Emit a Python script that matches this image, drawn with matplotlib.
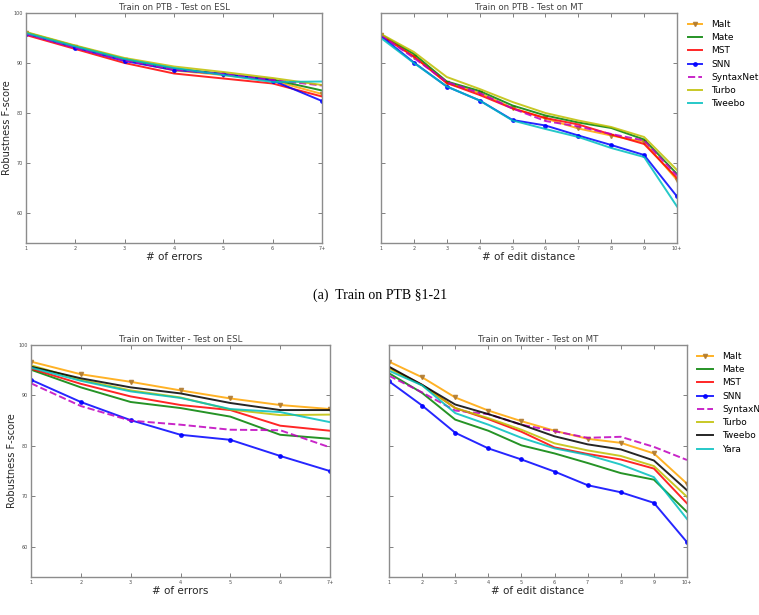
import matplotlib
matplotlib.use('Agg')
import matplotlib.pyplot as plt

# x tick labels
esl_ticks = ['1', '2', '3', '4', '5', '6', '7+']
mt_ticks = ['1', '2', '3', '4', '5', '6', '7', '8', '9', '10+']

# Train on PTB - Test on ESL
ptb_esl_malt = [96.0, 93.2, 90.6, 88.5, 87.6, 86.5, 83.8]
ptb_esl_mate = [96.1, 93.4, 90.8, 88.9, 87.8, 86.7, 84.5]
ptb_esl_mst = [95.6, 92.8, 90.0, 87.9, 86.9, 85.9, 83.3]
ptb_esl_snn = [95.9, 93.1, 90.4, 88.6, 87.8, 86.5, 82.4]
ptb_esl_syntaxnet = [95.8, 93.0, 90.5, 88.7, 87.8, 86.6, 85.5]
ptb_esl_turbo = [96.2, 93.5, 91.0, 89.3, 88.2, 87.0, 85.6]
ptb_esl_tweebo = [96.0, 93.3, 90.8, 89.0, 87.6, 86.2, 86.3]

# Train on PTB - Test on MT
ptb_mt_malt = [95.6, 91.3, 86.0, 84.0, 81.0, 78.9, 76.9, 75.5, 74.2, 66.6]
ptb_mt_mate = [95.7, 91.8, 86.3, 84.4, 81.5, 79.5, 78.1, 77.0, 74.7, 67.8]
ptb_mt_mst = [95.5, 91.3, 86.0, 83.6, 80.9, 79.0, 77.7, 75.7, 73.8, 67.0]
ptb_mt_snn = [95.4, 90.1, 85.3, 82.5, 78.6, 77.5, 75.5, 73.6, 71.6, 63.3]
ptb_mt_syntaxnet = [95.6, 91.0, 86.2, 84.0, 80.9, 78.4, 77.3, 75.8, 74.5, 67.5]
ptb_mt_turbo = [95.8, 92.2, 87.2, 84.8, 82.2, 80.0, 78.5, 77.2, 75.2, 68.6]
ptb_mt_tweebo = [95.0, 90.0, 85.3, 82.5, 78.5, 76.8, 75.2, 73.0, 71.2, 61.3]

# Train on Twitter - Test on ESL
tw_esl_malt = [96.7, 94.2, 92.7, 91.0, 89.4, 88.1, 87.3]
tw_esl_mate = [95.1, 91.6, 88.7, 87.5, 85.8, 82.2, 81.4]
tw_esl_mst = [95.3, 92.3, 89.8, 88.1, 87.1, 84.0, 83.0]
tw_esl_snn = [93.1, 88.7, 85.1, 82.2, 81.2, 78.0, 75.0]
tw_esl_syntaxnet = [92.4, 87.9, 85.0, 84.2, 83.2, 83.1, 79.7]
tw_esl_turbo = [96.0, 93.1, 91.0, 89.6, 87.2, 86.1, 86.2]
tw_esl_tweebo = [95.7, 93.4, 91.6, 90.4, 88.5, 87.1, 87.1]
tw_esl_yara = [95.5, 92.9, 90.8, 89.5, 87.3, 86.7, 84.7]

# Train on Twitter - Test on MT
tw_mt_malt = [96.7, 93.6, 89.6, 87.0, 84.9, 83.0, 81.4, 80.6, 78.5, 72.5]
tw_mt_mate = [94.4, 90.5, 85.2, 83.0, 80.1, 78.5, 76.6, 74.6, 73.3, 66.9]
tw_mt_mst = [95.5, 92.1, 87.5, 85.3, 82.8, 79.7, 78.4, 77.3, 75.5, 68.6]
tw_mt_snn = [92.8, 88.0, 82.6, 79.5, 77.3, 74.9, 72.2, 70.8, 68.7, 60.9]
tw_mt_syntaxnet = [93.9, 90.6, 87.0, 86.3, 84.2, 82.9, 81.6, 81.8, 79.8, 77.2]
tw_mt_turbo = [95.4, 92.0, 87.5, 85.5, 83.2, 80.5, 79.1, 78.0, 76.0, 69.9]
tw_mt_tweebo = [95.7, 92.1, 88.2, 86.3, 84.2, 81.9, 80.3, 79.3, 77.1, 71.2]
tw_mt_yara = [94.9, 92.0, 86.5, 84.2, 81.6, 79.5, 78.2, 76.3, 73.8, 65.5]

lw = 1.4
al = 0.85


def draw(ax, ticks, series, title, xlabel, ylabel=True):
    x = list(range(1, len(ticks) + 1))
    for name, vals, fmt in series:
        kw = dict(lw=lw, alpha=al, label=name)
        if name == 'Malt':
            ax.plot(x, vals, '-', color='orange', marker='v', ms=3,
                    mfc='#b07a30', mec='#b07a30', **kw)
        elif name == 'SNN':
            ax.plot(x, vals, '-', color='b', marker='o', ms=2.5, **kw)
        else:
            ax.plot(x, vals, fmt, **kw)
    ax.set_xlim(1, len(ticks))
    ax.set_ylim(54, 100)
    ax.set_xticks(x)
    ax.set_xticklabels(ticks)
    ax.set_yticks([60, 70, 80, 90, 100])
    ax.tick_params(direction='in', top=True, right=True, length=3,
                   width=0.5, labelsize=3.5, pad=2, colors='0.3')
    if not ylabel:
        ax.set_yticklabels([])
    else:
        ax.set_ylabel('Robustness F-score', fontsize=7, color='0.15', labelpad=1)
    for s in ax.spines.values():
        s.set_color('0.55')
        s.set_linewidth(1.0)
    ax.set_title(title, fontsize=6.2, color='0.25', pad=2)
    ax.set_xlabel(xlabel, fontsize=7.5, color='0.15', labelpad=1)


fig = plt.figure(figsize=(7.59, 6.15), dpi=100)
ax1 = fig.add_axes([26 / 759, 1 - 243 / 615, 296 / 759, 230 / 615])
ax2 = fig.add_axes([381 / 759, 1 - 243 / 615, 296 / 759, 230 / 615])
ax3 = fig.add_axes([31 / 759, 1 - 577 / 615, 299 / 759, 232 / 615])
ax4 = fig.add_axes([389 / 759, 1 - 577 / 615, 298 / 759, 232 / 615])

draw(ax1, esl_ticks, [
    ('Malt', ptb_esl_malt, ''),
    ('Mate', ptb_esl_mate, 'g-'),
    ('MST', ptb_esl_mst, 'r-'),
    ('SNN', ptb_esl_snn, ''),
    ('SyntaxNet', ptb_esl_syntaxnet, 'm--'),
    ('Turbo', ptb_esl_turbo, 'y-'),
    ('Tweebo', ptb_esl_tweebo, 'c-'),
], 'Train on PTB - Test on ESL', '# of errors')

draw(ax2, mt_ticks, [
    ('Malt', ptb_mt_malt, ''),
    ('Mate', ptb_mt_mate, 'g-'),
    ('MST', ptb_mt_mst, 'r-'),
    ('SNN', ptb_mt_snn, ''),
    ('SyntaxNet', ptb_mt_syntaxnet, 'm--'),
    ('Turbo', ptb_mt_turbo, 'y-'),
    ('Tweebo', ptb_mt_tweebo, 'c-'),
], 'Train on PTB - Test on MT', '# of edit distance', ylabel=False)

draw(ax3, esl_ticks, [
    ('Malt', tw_esl_malt, ''),
    ('Mate', tw_esl_mate, 'g-'),
    ('MST', tw_esl_mst, 'r-'),
    ('SNN', tw_esl_snn, ''),
    ('SyntaxNet', tw_esl_syntaxnet, 'm--'),
    ('Turbo', tw_esl_turbo, 'y-'),
    ('Tweebo', tw_esl_tweebo, 'k-'),
    ('Yara', tw_esl_yara, 'c-'),
], 'Train on Twitter - Test on ESL', '# of errors')

draw(ax4, mt_ticks, [
    ('Malt', tw_mt_malt, ''),
    ('Mate', tw_mt_mate, 'g-'),
    ('MST', tw_mt_mst, 'r-'),
    ('SNN', tw_mt_snn, ''),
    ('SyntaxNet', tw_mt_syntaxnet, 'm--'),
    ('Turbo', tw_mt_turbo, 'y-'),
    ('Tweebo', tw_mt_tweebo, 'k-'),
    ('Yara', tw_mt_yara, 'c-'),
], 'Train on Twitter - Test on MT', '# of edit distance', ylabel=False)

ax2.legend(loc='upper left', bbox_to_anchor=(688 / 759, 1 - 20 / 615),
           bbox_transform=fig.transFigure, frameon=False, fontsize=6.5,
           handlelength=1.6, handletextpad=1.0, labelspacing=0.47,
           borderpad=0, borderaxespad=0)
ax4.legend(loc='upper left', bbox_to_anchor=(697 / 759, 1 - 352 / 615),
           bbox_transform=fig.transFigure, frameon=False, fontsize=6.5,
           handlelength=1.8, handletextpad=1.0, labelspacing=0.47,
           borderpad=0, borderaxespad=0)

fig.text(380 / 759, 1 - 295 / 615, '(a)  Train on PTB \u00a71-21', ha='center',
         va='center', fontsize=10, family='Liberation Serif')

fig.savefig('out.png', dpi=100)
